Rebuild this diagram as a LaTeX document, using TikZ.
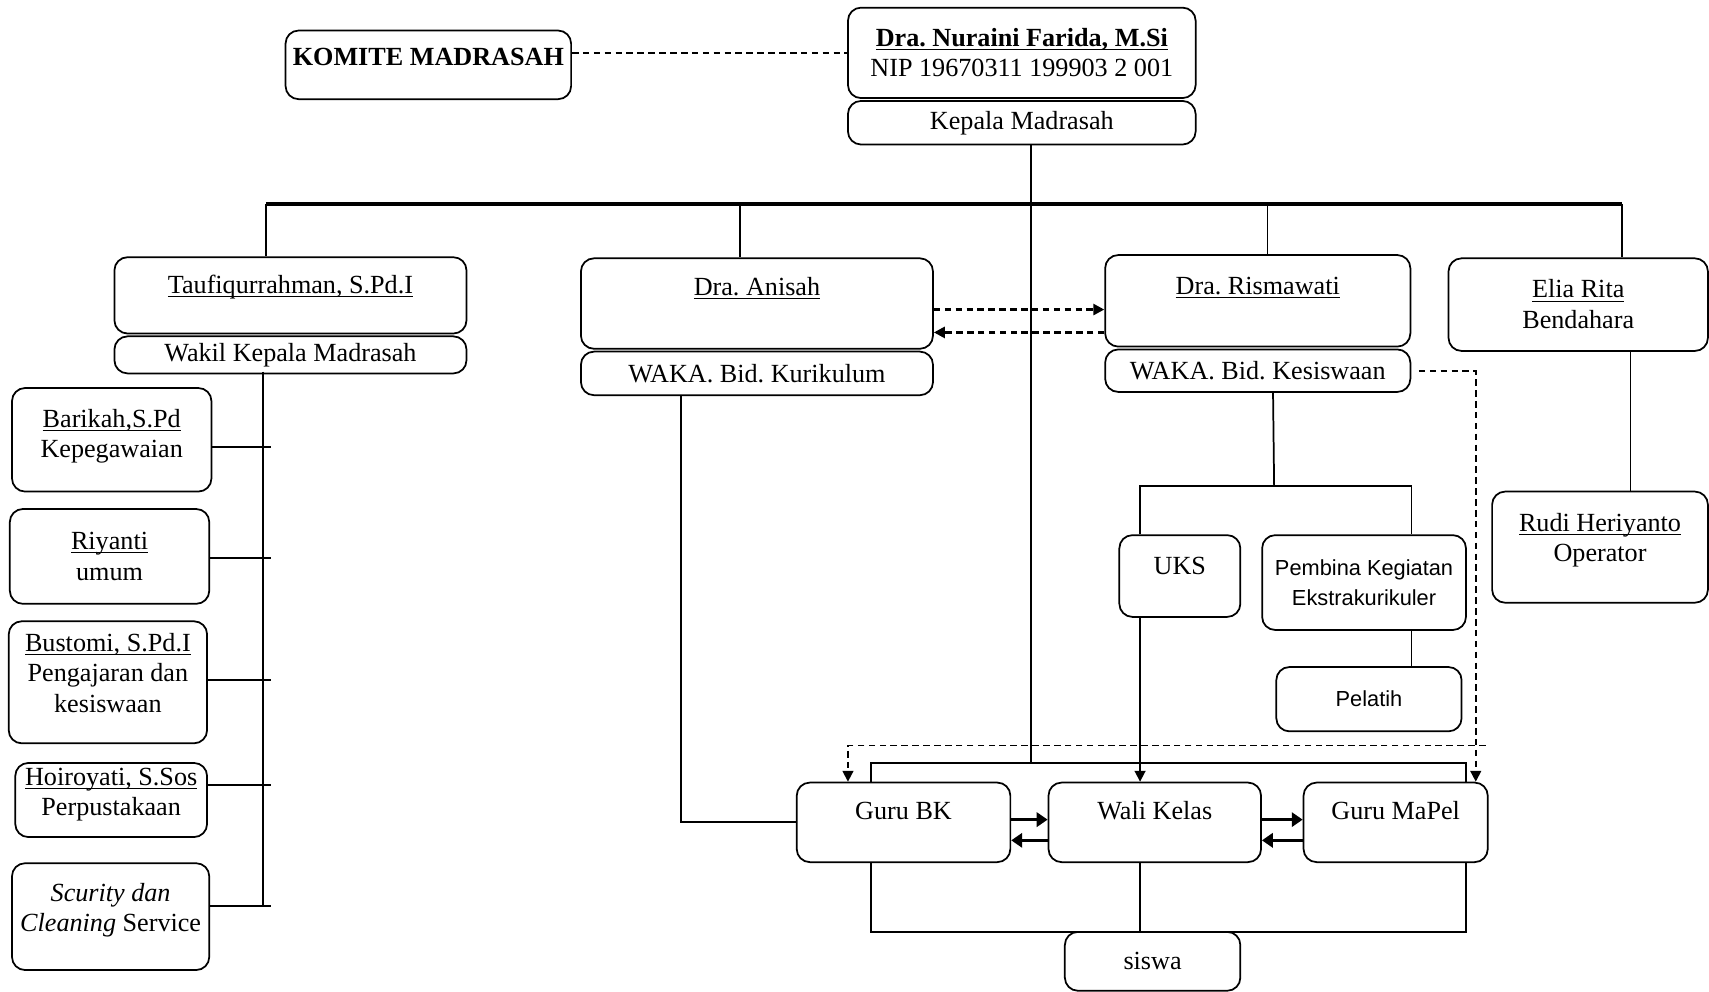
\documentclass[tikz,border=0pt]{standalone}
\usepackage{fontspec}
\setmainfont{Liberation Serif}
\newfontfamily\arialf{Liberation Sans}
\usetikzlibrary{positioning,arrows.meta}
\frenchspacing
\newcommand\ulin[1]{\underline{\smash{#1}\vphantom{A}}}

\tikzset{
  box/.style={draw, rounded corners=6pt, align=center, inner sep=1.5pt, font=\fontsize{12}{14}\selectfont},
  sbox/.style={box, font=\arialf\fontsize{10}{14}\selectfont},
  lift/.style={text depth=#1},
  bus/.style={line width=1.8pt},
  dsh/.style={dash pattern=on 3pt off 2pt},
  tip/.style={-{Triangle[length=5pt,width=5pt]}},
  garr/.style={line width=1.6pt, -{Triangle[length=5pt,width=6.5pt]}},
}

\begin{document}
\begin{tikzpicture}[x=0.5pt, y=-0.5pt, line width=0.8pt]
\useasboundingbox (0,0) rectangle (1568,910);

% Kepala dan komite
\node[box, lift=7.5pt, minimum width=131pt, minimum height=31.5pt] (komite) at (393,59.5) {\textbf{KOMITE MADRASAH}};
\node[box, minimum width=159.5pt, minimum height=41.5pt] (kepala) at (937.5,48.5) {\textbf{\ulin{Dra. Nuraini Farida, M.Si}}\\NIP 19670311 199903 2 001};
\node[box, below=0.5pt of kepala, minimum width=159.5pt, minimum height=20pt] (kepalaJ) {Kepala Madrasah};

% Wakil-wakil
\node[box, lift=9.5pt, minimum width=161.5pt, minimum height=35pt] (taufiq) at (266.5,271) {\ulin{Taufiqurrahman, S.Pd.I}};
\node[box, below=0.5pt of taufiq, minimum width=161.5pt, minimum height=17pt] (taufiqJ) {Wakil Kepala Madrasah};
\node[box, lift=15pt, minimum width=161.5pt, minimum height=41.5pt] (anisah) at (694.5,278.5) {\ulin{Dra. Anisah}};
\node[box, below=0.5pt of anisah, minimum width=161.5pt, minimum height=20pt] (anisahJ) {WAKA. Bid. Kurikulum};
\node[box, lift=13.5pt, minimum width=140pt, minimum height=42pt] (risma) at (1154,276) {\ulin{Dra. Rismawati}};
\node[box, below=0.5pt of risma, minimum width=140pt, minimum height=19.5pt] (rismaJ) {WAKA. Bid. Kesiswaan};
\node[box, minimum width=119pt, minimum height=42.5pt] (elia) at (1448,279.5) {\ulin{Elia Rita}\\Bendahara};
\node[box, lift=8.5pt, minimum width=99pt, minimum height=51pt] (rudi) at (1468,502) {\ulin{Rudi Heriyanto}\\Operator};

% Staf kiri
\node[box, lift=5.5pt, minimum width=91.5pt, minimum height=47.5pt] (barikah) at (102.5,403.5) {\ulin{Barikah,S.Pd}\\Kepegawaian};
\node[box, minimum width=91.5pt, minimum height=43.5pt] (riyanti) at (100.5,510.5) {\ulin{Riyanti}\\umum};
\node[box, lift=8.5pt, minimum width=91pt, minimum height=56pt] (bustomi) at (99,626) {\ulin{Bustomi, S.Pd.I}\\Pengajaran dan\\kesiswaan};
\node[box, lift=7.5pt, minimum width=88pt, minimum height=34pt] (hoiro) at (102,734) {\ulin{Hoiroyati, S.Sos}\\Perpustakaan};
\node[box, lift=8.5pt, minimum width=90.5pt, minimum height=49pt] (scurity) at (101.5,841) {\textit{Scurity dan}\\\textit{Cleaning} Service};

% Kesiswaan
\node[box, lift=9.5pt, minimum width=55.5pt, minimum height=37.5pt] (uks) at (1082.5,528.5) {UKS};
\node[sbox, minimum width=93.5pt, minimum height=43.5pt] (pembina) at (1251.5,534.5) {Pembina Kegiatan\\Ekstrakurikuler};
\node[sbox, minimum width=85pt, minimum height=29.5pt] (pelatih) at (1256,641.5) {Pelatih};

% Guru dan siswa
\node[box, lift=11pt, minimum width=98pt, minimum height=36.5pt] (gurubk) at (829,754.5) {Guru BK};
\node[box, lift=11pt, minimum width=97.5pt, minimum height=36.5pt] (wali) at (1059.5,754.5) {Wali Kelas};
\node[box, lift=11pt, minimum width=84.5pt, minimum height=36.5pt] (mapel) at (1280.5,754.5) {Guru MaPel};
\node[box, minimum width=80.5pt, minimum height=27pt] (siswa) at (1057.5,882) {siswa};

% Titik bantu
\coordinate (busL) at (244,187);
\coordinate (busR) at (1488,187);
\coordinate (trunk) at (946,700);
\coordinate (spT) at (241,341);
\coordinate (spB) at (241,831);
\coordinate (spR) at (249,0);
\coordinate (fTL) at (799,700);
\coordinate (fTR) at (1345,700);
\coordinate (fBL) at (799,855);
\coordinate (fBR) at (1345,855);
\coordinate (kT) at (1169,446);
\coordinate (kL) at (1046,446);
\coordinate (kR) at (1295,446);
\coordinate (dk) at (1354,343);
\coordinate (dgR) at (1363,684);
\coordinate (dgL) at (778,684);

% Garis
\draw[dsh] (komite.east |- kepala.west) -- (kepala.west);
\draw ([xshift=4.25pt]kepalaJ.south) -- (trunk);
\draw[bus] (busL) -- (busR);
\foreach \x/\n in {244/taufiq,679/anisah,1163/risma,1488/elia}
  \draw (\x,187) -- (\x,187 |- \n.north);

\draw (spT) -- (spB);
\foreach \n/\s in {barikah/-3.25,riyanti/-0.75,bustomi/1,hoiro/7,scurity/5}
  \draw ([yshift=\s pt]\n.east) -- ([yshift=\s pt]\n.east -| spR);

\draw[dsh, line width=1.2pt, tip] ([yshift=-2.75pt]anisah.east) -- ([yshift=-2.75pt]anisah.east -| risma.west);
\draw[dsh, line width=1.2pt, tip] ([yshift=-13.25pt]anisah.east -| risma.west) -- ([yshift=-13.25pt]anisah.east);

\draw ([xshift=24pt]elia.south) -- ([xshift=24pt]elia.south |- rudi.north);
\draw ([xshift=-34.75pt]anisahJ.south) |- (gurubk.west);

\draw ([xshift=7pt]rismaJ.south) -- (kT);
\draw (kL |- uks.north) -- (kL) -- (kR) -- (kR |- pembina.north);
\draw[tip] (kL |- uks.south) -- (kL |- wali.north);
\draw (kR |- pembina.south) -- (kR |- pelatih.north);

\draw[dsh, tip] ([xshift=3.5pt]rismaJ.east) -| (dk |- mapel.north);
\draw[dsh, tip] (dgR) -- (dgL) -- (dgL |- gurubk.north);

\draw (fTL |- gurubk.north) -- (fTL) -- (fTR) -- (fTR |- mapel.north);
\draw (fBL |- gurubk.south) -- (fBL) -- (fBR) -- (fBR |- mapel.south);
\draw (kL |- wali.south) -- (kL |- fBL);

\draw[garr] ([yshift=1.25pt]gurubk.east) -- ([yshift=1.25pt]wali.west);
\draw[garr] ([yshift=-8.25pt]wali.west) -- ([yshift=-8.25pt]gurubk.east);
\draw[garr] ([yshift=1.25pt]wali.east) -- ([yshift=1.25pt]mapel.west);
\draw[garr] ([yshift=-8.25pt]mapel.west) -- ([yshift=-8.25pt]wali.east);

\end{tikzpicture}
\end{document}
